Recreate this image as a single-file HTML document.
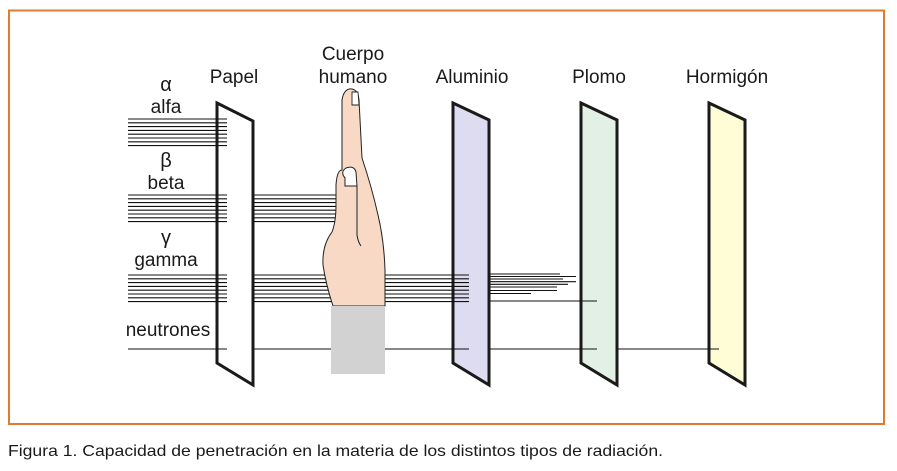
<!DOCTYPE html>
<html><head><meta charset="utf-8"><style>
html,body{margin:0;padding:0;background:#fff;}
svg{display:block;}
text{font-family:"Liberation Sans",sans-serif;fill:#1a1a1a;}
</style></head><body>
<svg width="897" height="471" viewBox="0 0 897 471" xmlns="http://www.w3.org/2000/svg">
<rect x="9" y="10.5" width="875" height="413.5" fill="none" stroke="#e07b2e" stroke-width="2"/>
<!-- plates -->
<g stroke="#1a1a1a" stroke-width="3" stroke-linejoin="miter">
<path d="M217 103 L253 121 L253 385 L217 363 Z" fill="none"/>
<path d="M453 103 L489 120 L489 385 L453 363 Z" fill="#dedcf0"/>
<path d="M581 103 L617 120 L617 385 L581 363 Z" fill="#e2f0e6"/>
<path d="M709 103 L745 120 L745 385 L709 363 Z" fill="#fefdd6"/>
</g>
<g stroke="#111" stroke-width="1.1">
<path d="M128 119H227M128 122.8H227M128 126.6H227M128 130.4H227M128 134.2H227M128 138H227M128 141.8H227M128 145.6H227"/>
<path d="M128 195H227M128 198.8H227M128 202.6H227M128 206.4H227M128 210.2H227M128 214H227M128 217.8H227M128 221.6H227"/>
<path d="M253 195H340M253 198.8H340M253 202.6H340M253 206.4H340M253 210.2H340M253 214H340M253 217.8H340M253 221.6H340"/>
<path d="M128 275H227M128 278.8H227M128 282.6H227M128 286.4H227M128 290.2H227M128 294H227M128 297.8H227M128 301.6H227"/>
<path d="M253 275H469M253 278.8H469M253 282.6H469M253 286.4H469M253 290.2H469M253 294H469M253 297.8H469M253 301.6H469"/>
<path d="M490 274H560M490 276.5H576M490 279H563M490 281.7H576M490 284.3H568M490 287H557M490 290.5H557M490 293.5H531M490 301H597"/>
<path d="M128 349H227M253 349H469M490 349H597M617 349H719"/>
</g>
<!-- hand -->
<path d="M342 100 Q344 88 352 89 Q358 90 359 100 L362 158 Q372 188 378 215 Q384 240 385 270 L385 306 L333 306 Q326 285 323 265 Q322 245 332 232 Q336 222 336 205 L336 185 Q337 170 342 170 L342 110 Z" fill="#f8d9c5" stroke="#222" stroke-width="1"/>
<path d="M345 178 Q340 172 346 168 Q354 165 356 172 L357 186 L345 186 Z" fill="#fff" stroke="#222" stroke-width="1"/>
<path d="M352 92 L358 92 L359 105 L352 105 Z" fill="#fff" stroke="#222" stroke-width="0.9"/>
<path d="M357 186 L357 235 Q358 242 361 246" fill="none" stroke="#222" stroke-width="1"/>
<rect x="331" y="306" width="54" height="68" fill="#d2d2d2"/>
<!-- labels -->
<g font-size="19">
<text x="166" y="91" text-anchor="middle" font-family="Liberation Serif" font-size="20">α</text>
<text x="166" y="113" text-anchor="middle">alfa</text>
<text x="166" y="167" text-anchor="middle" font-family="Liberation Serif" font-size="20">β</text>
<text x="166" y="189" text-anchor="middle">beta</text>
<text x="166" y="244" text-anchor="middle" font-family="Liberation Serif" font-size="20">γ</text>
<text x="166" y="266" text-anchor="middle">gamma</text>
<text x="168" y="336" text-anchor="middle">neutrones</text>
<text x="234" y="83" text-anchor="middle">Papel</text>
<text x="353" y="60" text-anchor="middle">Cuerpo</text>
<text x="353" y="83" text-anchor="middle">humano</text>
<text x="472" y="83" text-anchor="middle">Aluminio</text>
<text x="599" y="83" text-anchor="middle">Plomo</text>
<text x="727" y="83" text-anchor="middle">Hormigón</text>
</g>
<text x="8" y="456" font-size="16" textLength="655" lengthAdjust="spacingAndGlyphs">Figura 1. Capacidad de penetración en la materia de los distintos tipos de radiación.</text>
</svg>
</body></html>
